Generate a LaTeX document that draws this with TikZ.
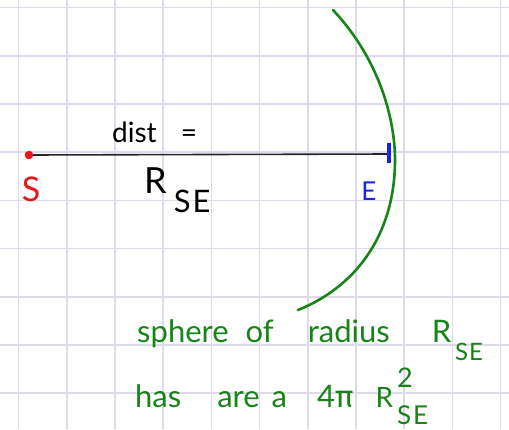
\documentclass[tikz,border=0pt]{standalone}
\usepackage{fontspec}
\setmainfont{Lato}
\newfontfamily\greekhand{Fira Sans}
\usetikzlibrary{positioning,calc}
\definecolor{gridlav}{RGB}{222,218,236}
\definecolor{penred}{RGB}{232,24,24}
\definecolor{penblue}{RGB}{24,36,230}
\definecolor{pengreen}{RGB}{22,132,22}
\newcommand{\fsz}[1]{\fontsize{#1}{#1}\selectfont}

\begin{document}
\begin{tikzpicture}[x=1pt,y=-1pt,
    gridline/.style={gridlav, line width=1.6pt},
    pen/.style={line width=2.6pt, line cap=round},
    greentext/.style={pengreen, anchor=base west, inner sep=0pt, font=\fsz{31}}]
        \useasboundingbox (0,0) rectangle (509,429);
        \fill[white] (0,0) rectangle (509,429);
        % Kotak-kotak kertas
        \foreach \i in {0,...,10} \draw[gridline] ({18.5+48.2*\i},0) -- ({18.5+48.2*\i},429);
        \foreach \j in {0,...,8} \draw[gridline] (0,{7.5+48.2*\j}) -- (509,{7.5+48.2*\j});
        % Matahari dan Bumi
        \coordinate (sun) at (29,155);
        \coordinate (earth) at (389,154);
        \draw[black!85, line width=1.6pt] (sun) -- (earth);
        \fill[penred] (sun) circle (4.3);
        \draw[penblue, line width=4pt] ($(earth)+(0,-11)$) -- ($(earth)+(0,9)$);
        \node[penred, font=\fsz{34}] (sunlabel) at (31,189.5) {S};
        \node[penblue, font=\fsz{26}] (earthlabel) at (369,191) {E};
        \node[anchor=base west, inner sep=0pt, font=\fsz{28}] (dist) at (112,142) {dist\hspace{24pt}=};
        \node[anchor=base west, inner sep=0pt, font=\fsz{36}] (rse) at (144,193)
              {R\kern7pt\raisebox{-19pt}{\fsz{31}S\kern2pt E}};
        % Permukaan bola
        \draw[pengreen, pen] (333,10) .. controls (380,60) and (395,120) .. (395,160)
              .. controls (395,230) and (360,285) .. (298,310);
        \node[greentext] (sphere) at (137,342)
              {sphere\hspace{17pt}of\hspace{34pt}radius\hspace{42pt}R\kern4pt\raisebox{-18pt}{\fsz{24}S\kern1pt E}};
        \node[greentext] (area) at (135,407)
              {has\hspace{36pt}are\kern12pt a\hspace{30pt}4{\greekhand π}\hspace{22pt}{\fsz{28}R}\kern4pt\rlap{\raisebox{20pt}{\fsz{27}2}}\raisebox{-17pt}{\fsz{26}S\kern2pt E}};
      \end{tikzpicture}
\end{document}
